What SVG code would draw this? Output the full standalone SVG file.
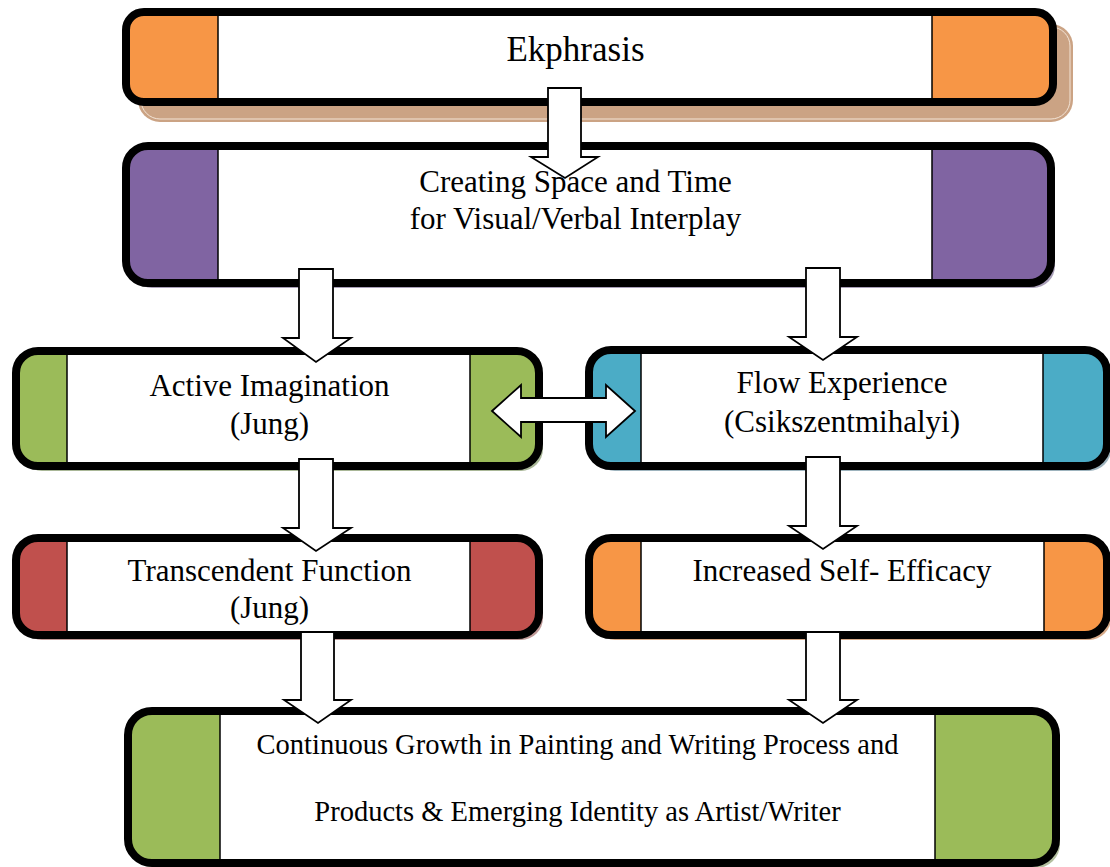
<svg xmlns="http://www.w3.org/2000/svg" width="1110" height="867" viewBox="0 0 1110 867">
<style>
.frame{fill:none;stroke:#000;stroke-width:8}
.inner{fill:#fff}
.div{stroke:#000;stroke-width:1.5}
.lbl{font-family:"Liberation Serif","Times New Roman",serif;fill:#000;text-anchor:middle}
.arr{fill:#fff;stroke:#000;stroke-width:1.8;stroke-linejoin:miter}
</style>
<rect width="1110" height="867" fill="#fff"/>

<g id="node-ekphrasis">
<rect x="138" y="24" width="935" height="98" rx="22" fill="#CBA384"/>
<rect x="141" y="27" width="929" height="92" rx="19" fill="none" stroke="#F3E4D6" stroke-width="1"/>
<rect x="126" y="12" width="927" height="90" rx="18" fill="#F79646"/>
<rect class="inner" x="218" y="16" width="714" height="82"/>
<line class="div" x1="218" y1="16" x2="218" y2="98"/>
<line class="div" x1="932" y1="16" x2="932" y2="98"/>
<rect class="frame" x="126" y="12" width="927" height="90" rx="18"/>
<text class="lbl" x="575.5" y="61" font-size="35">Ekphrasis</text>
</g>

<g id="node-space-time">
<rect x="130" y="151" width="925" height="137" rx="22" fill="#A99FB8"/>
<rect x="126" y="146" width="925" height="137" rx="22" fill="#8064A2"/>
<rect class="inner" x="218" y="150" width="714" height="129"/>
<line class="div" x1="218" y1="150" x2="218" y2="279"/>
<line class="div" x1="932" y1="150" x2="932" y2="279"/>
<rect class="frame" x="126" y="146" width="925" height="137" rx="22"/>
<text class="lbl" x="575.5" y="192" font-size="31">Creating Space and Time</text>
<text class="lbl" x="575.5" y="229" font-size="31">for Visual/Verbal Interplay</text>
</g>

<g id="node-active-imagination">
<rect x="20" y="356" width="523" height="115" rx="22" fill="#A9B797"/>
<rect x="16" y="351" width="523" height="115" rx="22" fill="#9BBB59"/>
<rect class="inner" x="67" y="355" width="403" height="107"/>
<line class="div" x1="67" y1="355" x2="67" y2="462"/>
<line class="div" x1="470" y1="355" x2="470" y2="462"/>
<rect class="frame" x="16" y="351" width="523" height="115" rx="22"/>
<text class="lbl" x="269.5" y="396" font-size="31">Active Imagination</text>
<text class="lbl" x="269.5" y="434" font-size="31">(Jung)</text>
</g>

<g id="node-flow">
<rect x="593" y="355" width="518" height="116" rx="22" fill="#9DB3BD"/>
<rect x="589" y="350" width="518" height="116" rx="22" fill="#4BACC6"/>
<rect class="inner" x="641" y="354" width="402" height="108"/>
<line class="div" x1="641" y1="354" x2="641" y2="462"/>
<line class="div" x1="1043" y1="354" x2="1043" y2="462"/>
<rect class="frame" x="589" y="350" width="518" height="116" rx="22"/>
<text class="lbl" x="842" y="393" font-size="31">Flow Experience</text>
<text class="lbl" x="842" y="432" font-size="31">(Csikszentmihalyi)</text>
</g>

<g id="node-transcendent">
<rect x="20" y="543" width="523" height="97" rx="22" fill="#C09A98"/>
<rect x="16" y="538" width="523" height="97" rx="22" fill="#C0504D"/>
<rect class="inner" x="67" y="542" width="403" height="89"/>
<line class="div" x1="67" y1="542" x2="67" y2="631"/>
<line class="div" x1="470" y1="542" x2="470" y2="631"/>
<rect class="frame" x="16" y="538" width="523" height="97" rx="22"/>
<text class="lbl" x="269.5" y="581" font-size="31">Transcendent Function</text>
<text class="lbl" x="269.5" y="618" font-size="31">(Jung)</text>
</g>

<g id="node-self-efficacy">
<rect x="593" y="543" width="518" height="97" rx="22" fill="#D7AB8A"/>
<rect x="589" y="538" width="518" height="97" rx="22" fill="#F79646"/>
<rect class="inner" x="641" y="542" width="403" height="89"/>
<line class="div" x1="641" y1="542" x2="641" y2="631"/>
<line class="div" x1="1044" y1="542" x2="1044" y2="631"/>
<rect class="frame" x="589" y="538" width="518" height="97" rx="22"/>
<text class="lbl" x="842" y="581" font-size="31">Increased Self- Efficacy</text>
</g>

<g id="node-growth">
<rect x="132" y="716" width="928" height="152" rx="24" fill="#B3BF9F"/>
<rect x="128" y="711" width="928" height="152" rx="24" fill="#9BBB59"/>
<rect class="inner" x="220" y="715" width="715" height="144"/>
<line class="div" x1="220" y1="715" x2="220" y2="859"/>
<line class="div" x1="935" y1="715" x2="935" y2="859"/>
<rect class="frame" x="128" y="711" width="928" height="152" rx="24"/>
<text class="lbl" x="577.5" y="754" font-size="28.5">Continuous Growth in Painting and Writing Process and</text>
<text class="lbl" x="577.5" y="821" font-size="28.5">Products &amp; Emerging Identity as Artist/Writer</text>
</g>

<g id="connectors">
<polygon class="arr" points="548,88 581,88 581,157 598,157 565,178 531,157 548,157"/>
<polygon class="arr" points="299,269 333,269 333,338 351,338 316,362 283,338 299,338"/>
<polygon class="arr" points="806,268 840,268 840,337 857,337 823,360 789,337 806,337"/>
<polygon class="arr" points="299,459 333,459 333,528 351,528 316,551 283,528 299,528"/>
<polygon class="arr" points="806,457 840,457 840,526 857,526 823,549 789,526 806,526"/>
<polygon class="arr" points="301,632 334,632 334,700 351,700 318,723 284,700 301,700"/>
<polygon class="arr" points="806,632 840,632 840,700 857,700 823,723 789,700 806,700"/>
<polygon class="arr" points="492,411 521,385 521,398 606,398 606,385 635,411 606,437 606,422 521,422 521,437"/>
</g>
</svg>
